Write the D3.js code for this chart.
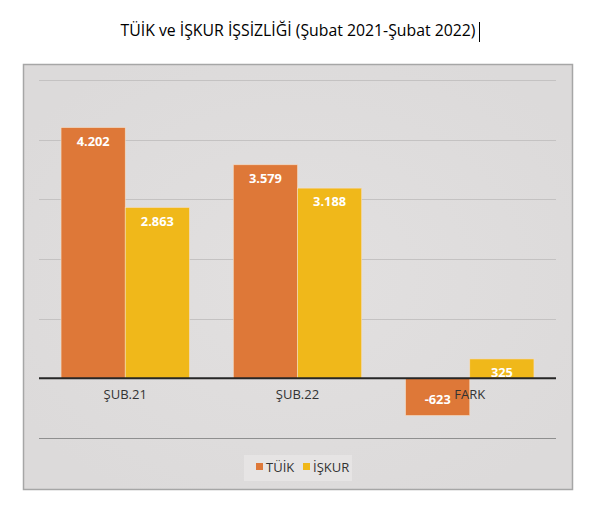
<!DOCTYPE html>
<html>
<head>
<meta charset="utf-8">
<script src="https://cdn.jsdelivr.net/npm/d3@7"></script>
<style>
  body { margin: 0; background: #fff; }
  text { font-family: "Open Sans", "Noto Sans", sans-serif; }
</style>
</head>
<body>
<div id="chart"></div>
<script>
//chart data
var categories = ["ŞUB.21", "ŞUB.22", "FARK"];
var seriesNames = ["TÜİK", "İŞKUR"];
var tuikValues = [4202, 3579, -623];
var iskurValues = [2863, 3188, 325];
var valueLabels = [["4.202", "2.863"], ["3.579", "3.188"], ["-623", "325"]];
var gridTicks = [-1000, 0, 1000, 2000, 3000, 4000, 5000];
var colors = ["#de7838", "#f0b81a"];

var width = 597, height = 518;

var svg = d3.select("#chart").append("svg")
  .attr("width", width)
  .attr("height", height);

//title
svg.append("text")
  .attr("x", 298)
  .attr("y", 36)
  .attr("text-anchor", "middle")
  .style("font-size", "15.8px")
  .style("fill", "#000")
  .text("TÜİK ve İŞKUR İŞSİZLİĞİ (Şubat 2021-Şubat 2022)");

//text cursor after title
svg.append("line")
  .attr("x1", 479.5).attr("x2", 479.5)
  .attr("y1", 22).attr("y2", 42)
  .style("stroke", "#000")
  .style("stroke-width", 1);

//chart frame with soft background
var defs = svg.append("defs");
var grad = defs.append("radialGradient")
  .attr("id", "bg")
  .attr("cx", "50%").attr("cy", "50%").attr("r", "60%");
grad.append("stop").attr("offset", "0%").attr("stop-color", "#e2e0e0");
grad.append("stop").attr("offset", "100%").attr("stop-color", "#dcdada");

svg.append("rect")
  .attr("x", 23.5)
  .attr("y", 64.5)
  .attr("width", 549)
  .attr("height", 425)
  .attr("fill", "url(#bg)")
  .attr("stroke", "#a6a6a6")
  .attr("stroke-width", 1.5);

//scales
var x0 = d3.scaleBand()
  .domain(categories)
  .range([39, 556])
  .paddingInner(0.255)
  .paddingOuter(0.128);

var x1 = d3.scaleBand()
  .domain(seriesNames)
  .range([0, x0.bandwidth()]);

var y = d3.scaleLinear()
  .domain([-1000, 5000])
  .range([438, 80]);

//gridlines
svg.append("g")
  .selectAll("line")
  .data(gridTicks.filter(d => d != 0))
  .join("line")
  .attr("x1", 39)
  .attr("x2", 556)
  .attr("y1", d => Math.round(y(d)) + 0.5)
  .attr("y2", d => Math.round(y(d)) + 0.5)
  .style("stroke", d => d == -1000 ? "#8f8f8f" : "#c4c2c2")
  .style("stroke-width", 1);

//bars
var rows = categories.map(function (c, i) {
  return [
    { cat: c, name: seriesNames[0], value: tuikValues[i], label: valueLabels[i][0], color: colors[0] },
    { cat: c, name: seriesNames[1], value: iskurValues[i], label: valueLabels[i][1], color: colors[1] }
  ];
});

var groups = svg.append("g")
  .selectAll("g")
  .data(rows)
  .join("g")
  .attr("transform", d => `translate(${x0(d[0].cat)},0)`);

groups.selectAll("rect")
  .data(d => d)
  .join("rect")
  .attr("x", d => x1(d.name))
  .attr("y", d => y(Math.max(0, d.value)))
  .attr("width", x1.bandwidth())
  .attr("height", d => Math.abs(y(d.value) - y(0)))
  .attr("fill", d => d.color)
  .style("stroke", "#f6dcc4")
  .style("stroke-width", 0.6);

//zero axis line
svg.append("line")
  .attr("x1", 39)
  .attr("x2", 556)
  .attr("y1", y(0))
  .attr("y2", y(0))
  .style("stroke", "#262626")
  .style("stroke-width", 2);

//category labels
svg.append("g")
  .selectAll("text")
  .data(categories)
  .join("text")
  .attr("x", d => x0(d) + x0.bandwidth() / 2)
  .attr("y", y(0) + 21)
  .attr("text-anchor", "middle")
  .style("font-size", "13px")
  .style("fill", "#333")
  .text(d => d);

//value labels
groups.selectAll("text")
  .data(d => d)
  .join("text")
  .attr("x", d => x1(d.name) + x1.bandwidth() / 2)
  .attr("y", d => d.value >= 0 ? y(d.value) + 18 : y(0) + 26)
  .attr("text-anchor", "middle")
  .style("font-size", "12.8px")
  .style("font-weight", "bold")
  .style("fill", "#fff")
  .text(d => d.label);

//legend
var legend = svg.append("g");
legend.append("rect")
  .attr("x", 244)
  .attr("y", 455)
  .attr("width", 108)
  .attr("height", 26)
  .attr("fill", "#e6e4e4");

var legendX = [256, 303];
seriesNames.forEach(function (name, i) {
  legend.append("rect")
    .attr("x", legendX[i])
    .attr("y", 463)
    .attr("width", 7)
    .attr("height", 7)
    .attr("fill", colors[i]);
  legend.append("text")
    .attr("x", legendX[i] + 10)
    .attr("y", 472)
    .style("font-size", "13px")
    .style("fill", "#333")
    .text(name);
});
</script>
</body>
</html>
